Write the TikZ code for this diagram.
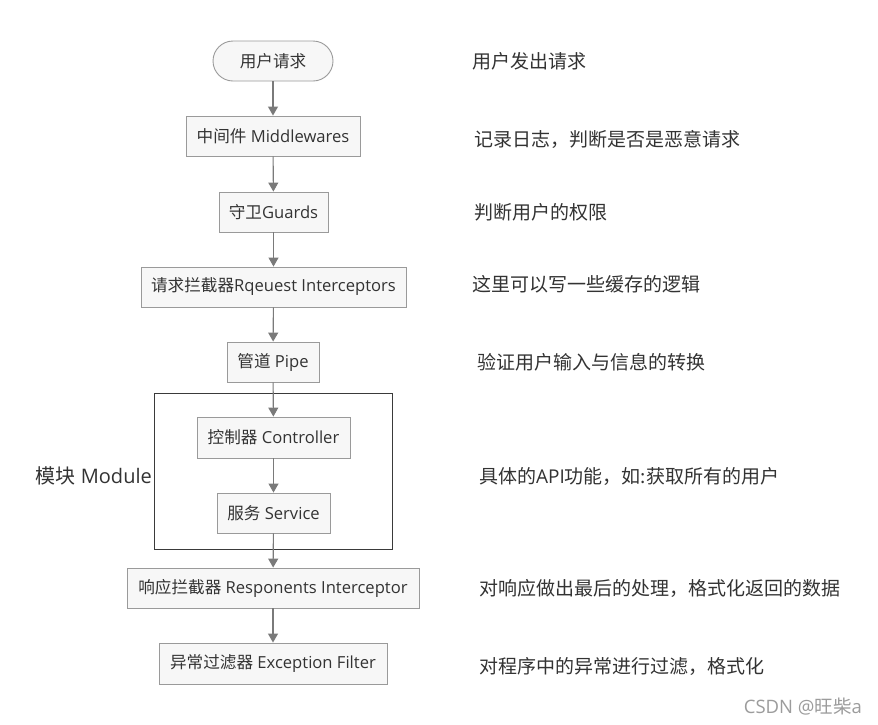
\documentclass[tikz,border=0pt]{standalone}
\usepackage{fontspec}
\setmainfont{Open Sans}
\newfontfamily\cjk{Noto Sans CJK SC}
\usetikzlibrary{arrows.meta}
\definecolor{boxfill}{HTML}{F7F7F7}
\definecolor{boxline}{HTML}{9A9A9A}
\definecolor{arrcol}{HTML}{7A7A7A}
\definecolor{txt}{HTML}{333333}
\definecolor{modline}{HTML}{3A3A3A}
\definecolor{wmcol}{HTML}{9C9C9C}
\begin{document}
\begin{tikzpicture}[x=1pt,y=-1pt,
  stepbox/.style={draw=boxline,fill=boxfill,line width=0.9pt,inner sep=0pt,text=txt,font=\fontsize{16.6}{18}\selectfont},
  arr/.style={draw=arrcol,line width=1.1pt,-{Triangle[width=10pt,length=9pt]}},
  note/.style={anchor=west,text=txt,inner sep=0pt,font=\fontsize{19}{22}\selectfont\cjk}]
\useasboundingbox[fill=white] (0,0) rectangle (878,724);
\node[stepbox,rounded corners=20pt,minimum width=120pt,minimum height=40pt] (u) at (273,61) {\cjk 用户请求};
\node[stepbox,minimum width=174pt,minimum height=40pt] (m) at (273,136) {{\cjk 中间件} Middlewares};
\node[stepbox,minimum width=109pt,minimum height=40pt] (g) at (273.5,212) {{\cjk 守卫}Guards};
\node[stepbox,minimum width=265pt,minimum height=40pt] (ri) at (273.5,287) {{\cjk 请求拦截器}Rqeuest Interceptors};
\node[stepbox,minimum width=92pt,minimum height=40pt] (p) at (273,362) {{\cjk 管道} Pipe};
\node[draw=modline,line width=0.9pt,minimum width=238pt,minimum height=156pt,inner sep=0pt] (mod) at (273,471) {};
\node[anchor=east,inner sep=0pt,text=txt,font=\fontsize{20}{24}\selectfont] (modl) at (152,476) {{\cjk 模块} Module};
\node[stepbox,minimum width=153pt,minimum height=41pt] (c) at (273.5,437.5) {{\cjk 控制器} Controller};
\node[stepbox,minimum width=113pt,minimum height=40pt] (s) at (273.5,513) {{\cjk 服务} Service};
\node[stepbox,minimum width=292pt,minimum height=40pt] (rp) at (273,588) {{\cjk 响应拦截器} Responents Interceptor};
\node[stepbox,minimum width=228pt,minimum height=41pt] (ef) at (273,663.5) {{\cjk 异常过滤器} Exception Filter};
\draw[arr] (u) -- (m);
\draw[arr] (m) -- (g);
\draw[arr] (g) -- (ri);
\draw[arr] (ri) -- (p);
\draw[arr] (p) -- (c);
\draw[arr] (c) -- (s);
\draw[arr] (s) -- (rp);
\draw[arr] (rp) -- (ef);
\node[note] (n1) at (472,61) {用户发出请求};
\node[note] (n2) at (474,139) {记录日志，判断是否是恶意请求};
\node[note] (n3) at (474,212) {判断用户的权限};
\node[note] (n4) at (472,284) {这里可以写一些缓存的逻辑};
\node[note] (n5) at (477,362) {验证用户输入与信息的转换};
\node[note] (n6) at (479,476) {具体的{\fontspec{Open Sans}API}功能，如:获取所有的用户};
\node[note] (n7) at (479,588) {对响应做出最后的处理，格式化返回的数据};
\node[note] (n8) at (479,666) {对程序中的异常进行过滤，格式化};
\node[anchor=east,inner sep=0pt,text=wmcol,font=\fontsize{18.5}{20}\selectfont] (wm) at (862,707) {CSDN @{\cjk 旺柴}a};
\end{tikzpicture}
\end{document}
